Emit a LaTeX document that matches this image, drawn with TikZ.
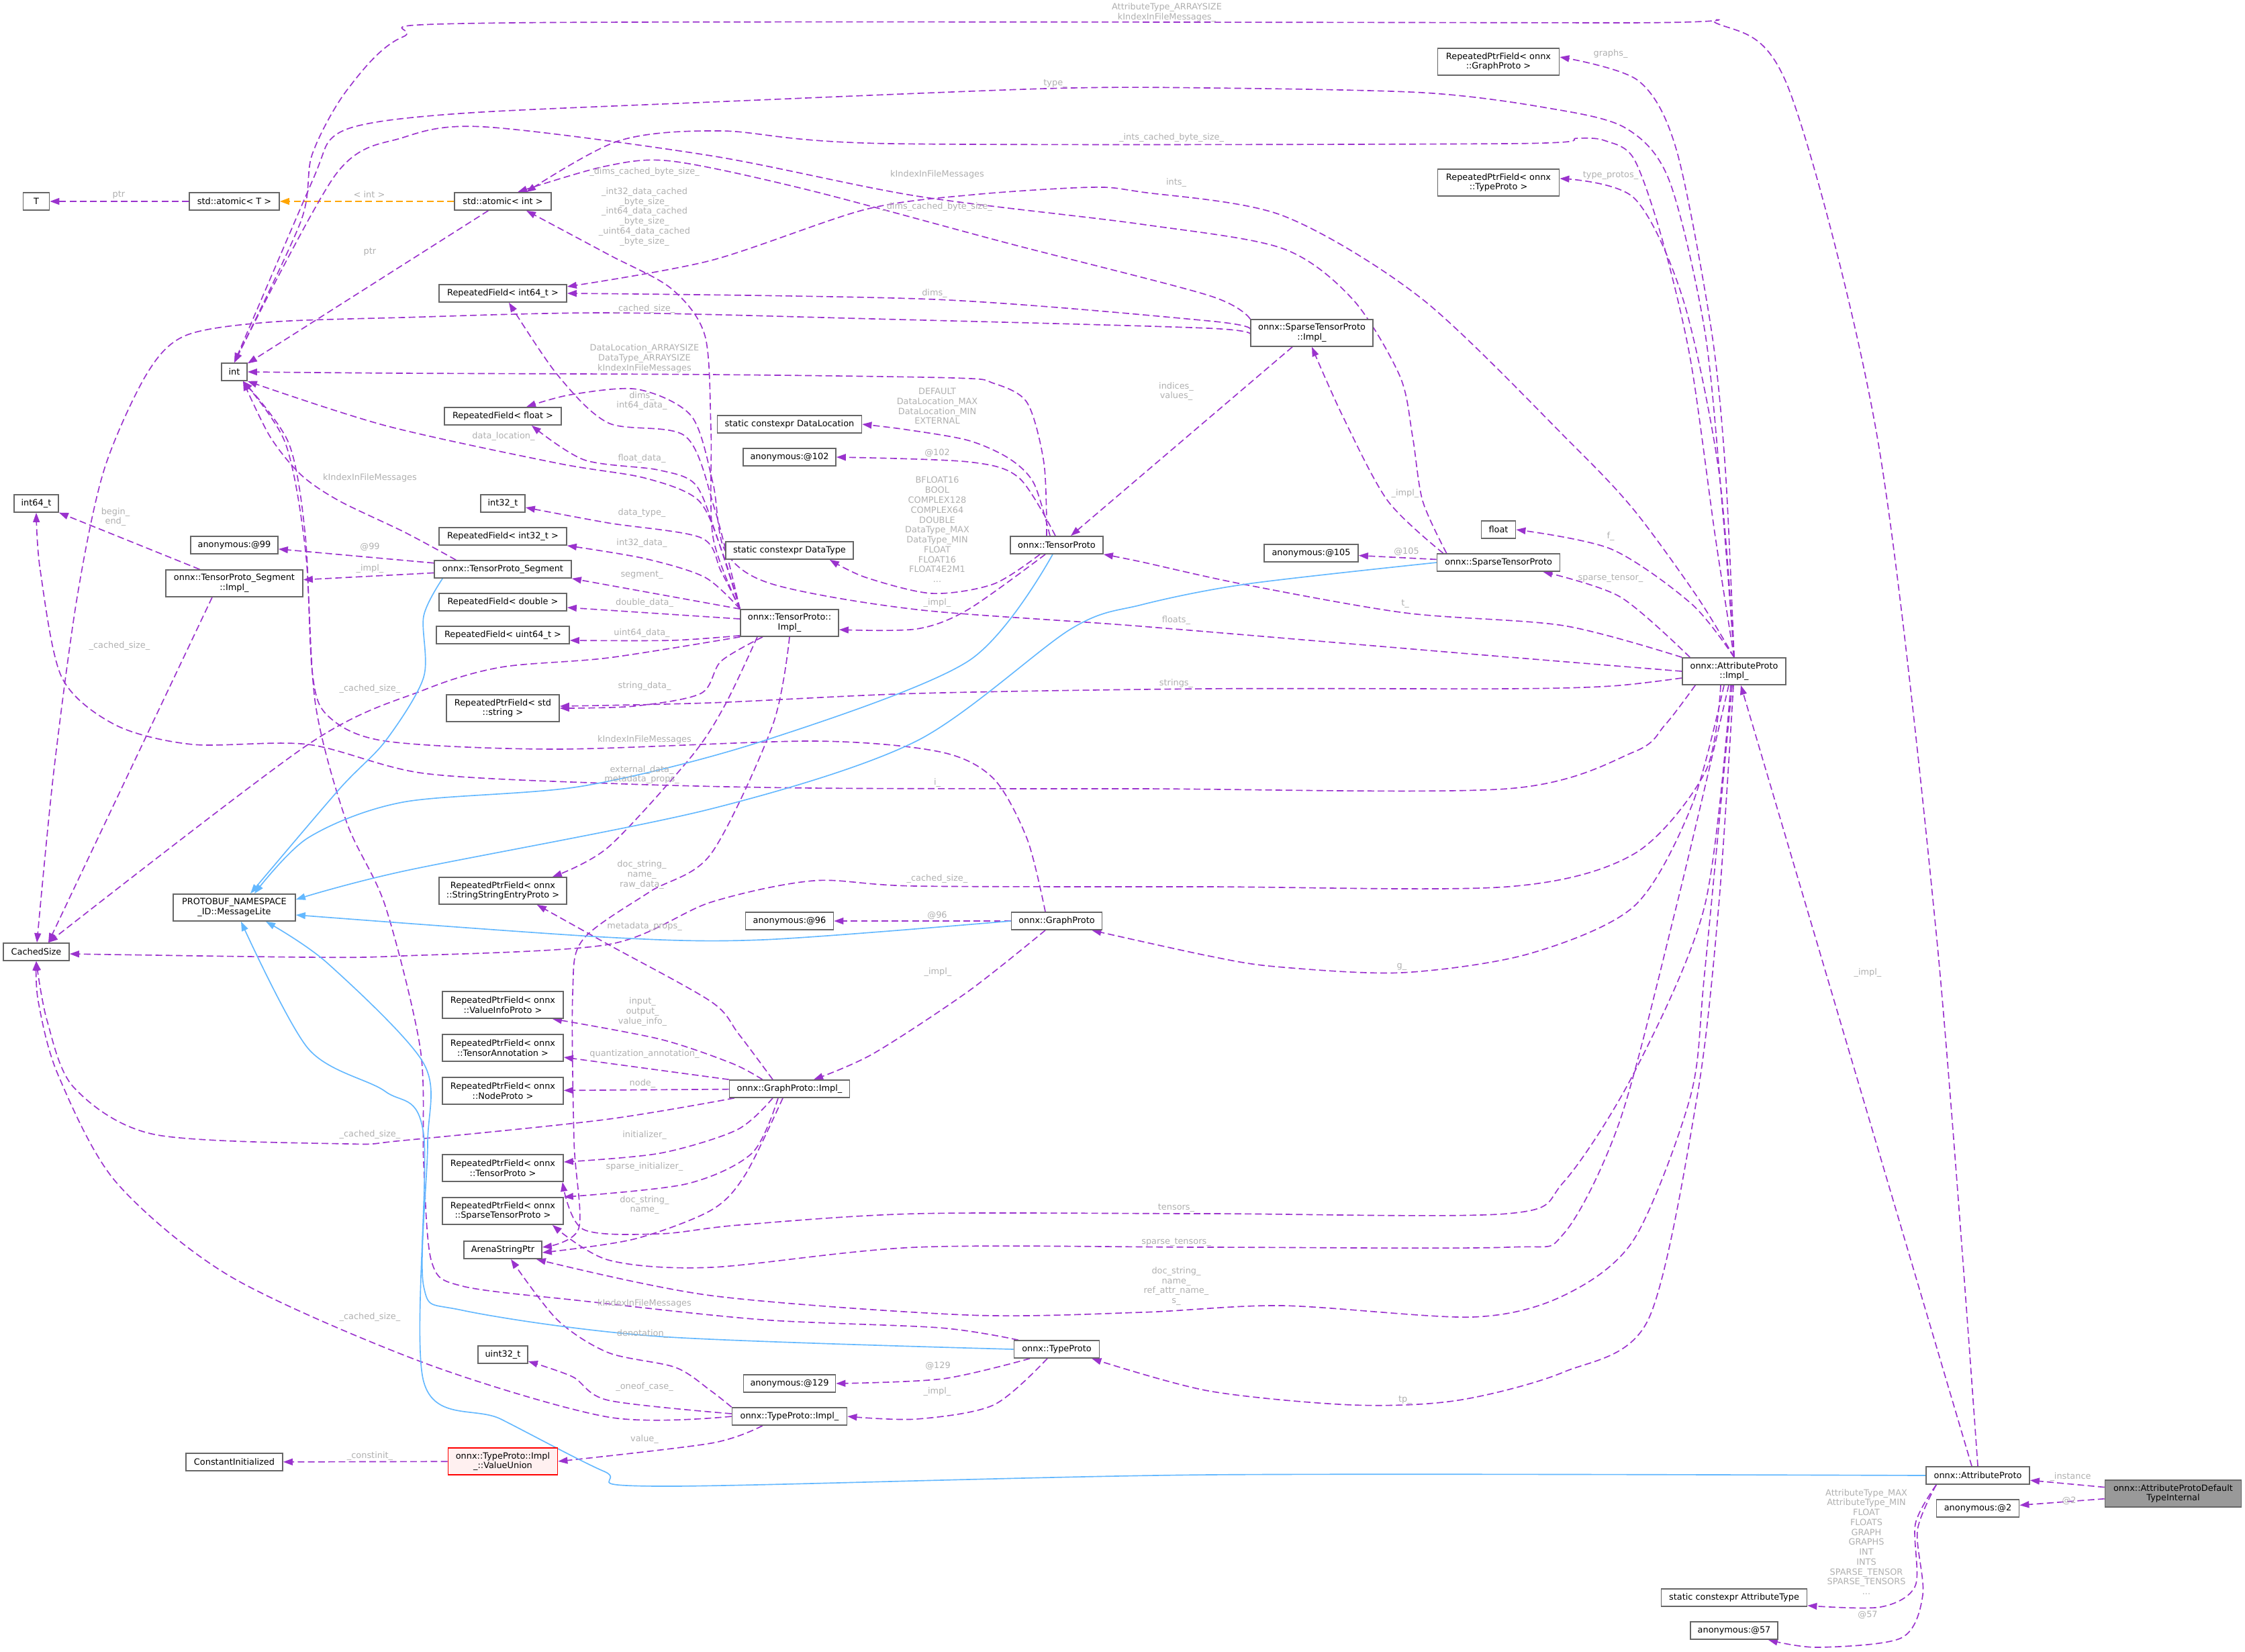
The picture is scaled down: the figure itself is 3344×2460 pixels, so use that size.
\documentclass[tikz,border=0pt]{standalone}
\usepackage{fontspec}
\setmainfont{DejaVu Sans}
\usetikzlibrary{arrows.meta,calc,backgrounds}
\definecolor{Frame}{HTML}{666666}
\definecolor{Rel}{HTML}{9A32CD}
\definecolor{Base}{HTML}{63B8FF}
\definecolor{Tmpl}{HTML}{FFA500}
\definecolor{Lbl}{HTML}{B0B0B0}
\definecolor{Root}{HTML}{999999}
\definecolor{Warn}{HTML}{FF0000}
\definecolor{WarnFill}{HTML}{FFF0F0}

\begin{document}
\begin{tikzpicture}[x=0.03cm,y=-0.03cm,font=\fontsize{11}{12.6}\selectfont,
 cls/.style={draw=Frame,line width=1.4pt,fill=white,inner xsep=3pt,inner ysep=0pt,minimum height=0.78cm,align=center},
 two/.style={cls,minimum height=1.2cm},
 wd/.style={minimum width=#1*0.03cm},
 rel/.style={draw=Rel,line width=1.4pt,dash pattern=on 8.5pt off 4.5pt,-{Triangle[length=12pt,width=8.5pt]}},
 isa/.style={draw=Base,line width=1.4pt,-{Triangle[length=12pt,width=8.5pt]}},
 tmpl/.style={draw=Tmpl,line width=1.4pt,dash pattern=on 8.5pt off 4.5pt,-{Triangle[length=12pt,width=8.5pt]}},
 lbl/.style={text=Lbl,align=center,inner sep=0pt}]
 \useasboundingbox (0,0) rectangle (3344,2460);

 \node[cls,wd=39] (T) at (54,300) {T};
 \node[cls,wd=134] (atomT) at (349,300) {std::atomic< T >};
 \node[cls,wd=144] (atomInt) at (749,300) {std::atomic< int >};
 \node[cls,wd=38] (intN) at (349,554) {int};
 \node[cls,wd=190] (rfInt64) at (749,437) {RepeatedField< int64\_t >};
 \node[cls,wd=174] (rfFloat) at (749,620) {RepeatedField< float >};
 \node[cls,wd=66] (int64t) at (54,750) {int64\_t};
 \node[cls,wd=130] (anon99) at (349,812) {anonymous:@99};
 \node[two,wd=204] (segImpl) at (349,869) {onnx::TensorProto\_Segment\\::Impl\_};
 \node[cls,wd=66] (int32t) at (749,750) {int32\_t};
 \node[cls,wd=190] (rfInt32) at (749,799) {RepeatedField< int32\_t >};
 \node[cls,wd=204] (seg) at (749,848) {onnx::TensorProto\_Segment};
 \node[cls,wd=190] (rfDouble) at (749,897) {RepeatedField< double >};
 \node[cls,wd=198] (rfUint64) at (749,946) {RepeatedField< uint64\_t >};
 \node[two,wd=168] (rpfString) at (749,1055) {RepeatedPtrField< std\\::string >};
 \node[two,wd=182] (msgLite) at (349,1352) {PROTOBUF\_NAMESPACE\\\_ID::MessageLite};
 \node[two,wd=190] (rpfSSE) at (749,1327) {RepeatedPtrField< onnx\\::StringStringEntryProto >};
 \node[cls,wd=98] (cached) at (54,1418) {CachedSize};
 \node[two,wd=180] (rpfVI) at (749,1497) {RepeatedPtrField< onnx\\::ValueInfoProto >};
 \node[two,wd=180] (rpfTA) at (749,1561) {RepeatedPtrField< onnx\\::TensorAnnotation >};
 \node[two,wd=180] (rpfNode) at (749,1625) {RepeatedPtrField< onnx\\::NodeProto >};
 \node[two,wd=180] (rpfTensor) at (749,1740) {RepeatedPtrField< onnx\\::TensorProto >};
 \node[two,wd=180] (rpfSparse) at (749,1804) {RepeatedPtrField< onnx\\::SparseTensorProto >};
 \node[cls,wd=116] (arena) at (749,1862) {ArenaStringPtr};
 \node[cls,wd=74] (uint32) at (749,2018) {uint32\_t};
 \node[cls,wd=144] (constInit) at (349,2178) {ConstantInitialized};
 \node[two,wd=163,draw=Warn,fill=WarnFill] (valueUnion) at (749,2177) {onnx::TypeProto::Impl\\\_::ValueUnion};
 \node[cls,wd=215] (dataLoc) at (1176,632) {static constexpr DataLocation};
 \node[cls,wd=138] (anon102) at (1176,681) {anonymous:@102};
 \node[cls,wd=190] (dataType) at (1176,820) {static constexpr DataType};
 \node[two,wd=146] (tpImpl) at (1176,928) {onnx::TensorProto::\\Impl\_};
 \node[cls,wd=138] (tp) at (1574,812) {onnx::TensorProto};
 \node[cls,wd=131] (anon96) at (1176,1372) {anonymous:@96};
 \node[cls,wd=135] (gp) at (1574,1372) {onnx::GraphProto};
 \node[cls,wd=179] (gpImpl) at (1176,1622) {onnx::GraphProto::Impl\_};
 \node[cls,wd=127] (typeProto) at (1574,2010) {onnx::TypeProto};
 \node[cls,wd=137] (anon129) at (1176,2061) {anonymous:@129};
 \node[cls,wd=171] (typeImpl) at (1176,2110) {onnx::TypeProto::Impl\_};
 \node[two,wd=181] (rpfGraph) at (2232,92) {RepeatedPtrField< onnx\\::GraphProto >};
 \node[two,wd=181] (rpfType) at (2232,272) {RepeatedPtrField< onnx\\::TypeProto >};
 \node[two,wd=182] (stpImpl) at (1954,496) {onnx::SparseTensorProto\\::Impl\_};
 \node[cls,wd=51] (floatN) at (2232,789) {float};
 \node[cls,wd=140] (anon105) at (1953,824) {anonymous:@105};
 \node[cls,wd=183] (stp) at (2232,838) {onnx::SparseTensorProto};
 \node[two,wd=154] (apImpl) at (2583,1000) {onnx::AttributeProto\\::Impl\_};
 \node[cls,wd=154] (ap) at (2946,2198) {onnx::AttributeProto};
 \node[cls,wd=123] (anon2) at (2946,2247) {anonymous:@2};
 \node[two,wd=203,fill=Root] (apDefault) at (3237,2225) {onnx::AttributeProtoDefault\\TypeInternal};
 \node[cls,wd=217] (attrType) at (2583,2380) {static constexpr AttributeType};
 \node[cls,wd=130] (anon57) at (2583,2429) {anonymous:@57};

 \begin{scope}[on background layer]
 \fill[white] (0,0) rectangle (3344,2460);
 \draw[rel] (atomT) -- (T);
 \draw[tmpl] (atomInt) -- (atomT);
 \draw[rel] (atomInt) -- (intN);
 \draw[rel] plot[smooth] coordinates {(ap.north) (2885,1400) (2796,650) (2665,134) (2560,36) (2400,34) (760,34) (600,55) (517,134) (465,230) (448,330) (intN.north)};
 \draw[rel] plot[smooth] coordinates {(apImpl.north) (2565,750) (2539,491) (2486,268) (2420,190) (2300,160) (2119,138) (1800,131) (1557,132) (1059,152) (717,167) (560,182) (495,205) (465,270) (intN.north)};
 \draw[rel] plot[smooth] coordinates {($(stp.north west)+(15,0)$) (2119,746) (2104,650) (2085,560) (2015,446) (1910,370) (1700,334) (1365,292) (1059,232) (722,189) (600,205) (500,260) (intN.north)};
 \draw[rel] plot[smooth] coordinates {($(tp.north)+(-15,0)$) (1555,690) (1530,600) (1480,571) (1420,563) (1059,558) (600,556) (intN.east)};
 \draw[rel] plot[smooth] coordinates {(tpImpl.north west) (1075,820) (1040,745) (960,712) (830,690) (574,634) (intN.south east)};
 \draw[rel] plot[smooth] coordinates {(tpImpl.north west) (1068,800) (1036,722) (980,700) (870,685) ($(rfFloat.south east)+(-45,0)$)};
 \draw[rel] plot[smooth] coordinates {(tpImpl.north west) (1065,760) (1021,650) (906,630) (830,558) ($(rfInt64.south)+(9,0)$)};
 \draw[rel] plot[smooth] coordinates {(tpImpl.north west) (1062,800) (1059,640) (1050,500) (1000,430) (906,379) ($(atomInt.south)+(35,0)$)};
 \draw[rel] plot[smooth] coordinates {(tpImpl.north west) (1074,851) (1044,801) (906,779) ($(int32t.east)+(0,6)$)};
 \draw[rel] plot[smooth] coordinates {(tpImpl.north west) (1050,860) (960,832) (rfInt32.south east)};
 \draw[rel] (tpImpl.north west) -- (seg.south east);
 \draw[rel] ($(tpImpl.west)+(0,-6)$) -- ($(rfDouble.east)+(0,8)$);
 \draw[rel] plot[smooth] coordinates {($(tpImpl.south west)+(0,-2)$) (1000,954) ($(rfUint64.east)+(0,8)$)};
 \draw[rel] plot[smooth] coordinates {($(tpImpl.south)+(-40,0)$) (1074,985) (1044,1033) (944,1052) (rpfString.east)};
 \draw[rel] plot[smooth] coordinates {(tpImpl.south west) (906,980) (746,994) (631,1028) (459,1109) ($(cached.north)+(18,0)$)};
 \draw[rel] plot[smooth] coordinates {($(tpImpl.south)+(-48,0)$) (1080,1050) (1029,1128) (906,1262) ($(rpfSSE.north east)+(-22,0)$)};
 \draw[rel] plot[smooth] coordinates {(tpImpl.south) (1151,1080) (1059,1272) (967,1329) (868,1400) (853,1480) (855,1700) (862,1830) ($(arena.east)+(0,-4)$)};
 \draw[rel] plot[smooth] coordinates {($(gpImpl.north west)+(50,0)$) (1090,1584) (983,1548) ($(rpfVI.south east)+(-17,0)$)};
 \draw[rel] (gpImpl.north west) -- ($(rpfTA.east)+(0,14)$);
 \draw[rel] (gpImpl) -- (rpfNode);
 \draw[rel] plot[smooth] coordinates {($(gpImpl.south west)+(8,0)$) (900,1668) (600,1699) (517,1704) (230,1690) (110,1620) (70,1520) (cached.south)};
 \draw[rel] plot[smooth] coordinates {($(gpImpl.south)+(-25,0)$) (1098,1683) (983,1718) ($(rpfTensor.east)+(0,-9)$)};
 \draw[rel] plot[smooth] coordinates {($(gpImpl.south)+(-17,0)$) (1120,1718) (1021,1764) (rpfSparse.north east)};
 \draw[rel] plot[smooth] coordinates {($(gpImpl.south)+(-10,0)$) (1110,1750) (1059,1803) (944,1846) ($(arena.east)+(0,4)$)};
 \draw[rel] plot[smooth] coordinates {($(gpImpl.north)+(-25,0)$) (1100,1540) (1059,1492) (906,1407) ($(rpfSSE.south east)+(-45,0)$)};
 \draw[rel] (gp) -- (anon96);
 \draw[rel] plot[smooth] coordinates {($(gp.south)+(-17,0)$) (1442,1477) (1300,1570) ($(gpImpl.north)+(36,0)$)};
 \draw[rel] plot[smooth] coordinates {($(gp.north)+(-17,0)$) (1530,1250) (1480,1160) (1400,1120) (1212,1104) (830,1116) (574,1104) (488,1066) (465,1000) (455,800) (430,660) ($(intN.south)+(13,0)$)};
 \draw[rel] plot[smooth] coordinates {($(typeProto.south)+(-40,0)$) (1404,2054) (anon129.east)};
 \draw[rel] plot[smooth] coordinates {($(typeProto.south)+(-14,0)$) (1480,2093) (1365,2114) (typeImpl.east)};
 \draw[rel] plot[smooth] coordinates {($(typeProto.north west)+(7,0)$) (1400,1978) (1136,1966) (868,1938) (689,1916) (643,1880) (631,1732) (626,1562) (574,1350) (516,1224) (470,1050) (455,820) (425,660) ($(intN.south)+(13,0)$)};
 \draw[rel] plot[smooth] coordinates {(typeImpl.north west) (1059,2072) (1006,2037) (906,2015) (830,1966) ($(arena.south)+(12,0)$)};
 \draw[rel] plot[smooth] coordinates {($(typeImpl.west)+(0,-4)$) (906,2086) (853,2051) ($(uint32.east)+(0,10)$)};
 \draw[rel] plot[smooth] coordinates {(typeImpl.west) (906,2111) (631,2030) (344,1902) (172,1760) (86,1600) (57,1492) (cached.south)};
 \draw[rel] plot[smooth] coordinates {($(typeImpl.south west)+(46,0)$) (1059,2150) (valueUnion.east)};
 \draw[rel] (valueUnion) -- (constInit);
 \draw[rel] (seg) -- (anon99);
 \draw[rel] (seg) -- (segImpl);
 \draw[rel] plot[smooth] coordinates {($(seg.north west)+(33,0)$) (603,793) (505,746) (448,707) (402,650) ($(intN.south)+(13,0)$)};
 \draw[rel] (segImpl) -- (int64t);
 \draw[rel] ($(segImpl.south)+(-33,0)$) -- ($(cached.north)+(18,0)$);
 \draw[rel] plot[smooth] coordinates {(stpImpl.north west) (1800,440) (1500,362) (1200,282) (1000,240) (900,248) ($(atomInt.north)+(22,0)$)};
 \draw[rel] plot[smooth] coordinates {($(stpImpl.west)+(0,-6)$) (1800,478) (1392,446) (rfInt64.east)};
 \draw[rel] plot[smooth] coordinates {($(stpImpl.west)+(0,4)$) (1800,489) (1300,475) (906,466) (600,473) (400,480) (276,500) (218,558) (155,700) (115,889) (80,1150) ($(cached.north)+(1,0)$)};
 \draw[rel] ($(stpImpl.south)+(-29,0)$) -- ($(tp.north)+(21,0)$);
 \draw[rel] (stp) -- (anon105);
 \draw[rel] plot[smooth] coordinates {($(stp.north west)+(10,0)$) (2067,746) (2000,620) (stpImpl.south)};
 \draw[rel] plot[smooth] coordinates {($(tp.north)+(-10,0)$) (1540,720) (1503,683) (1442,656) (1350,640) (dataLoc.east)};
 \draw[rel] plot[smooth] coordinates {($(tp.north)+(-2,0)$) (1518,712) (1442,688) (anon102.east)};
 \draw[rel] plot[smooth] coordinates {($(tp.south)+(-25,0)$) (1480,870) (1388,884) (1289,860) ($(dataType.south east)+(-36,0)$)};
 \draw[rel] plot[smooth] coordinates {($(tp.south)+(-17,0)$) (1442,908) (1365,937) ($(tpImpl.east)+(0,10)$)};
 \draw[rel] plot[smooth] coordinates {(apImpl.north) (2570,700) (2549,491) (2497,223) (2440,120) ($(rpfGraph.east)+(0,-7)$)};
 \draw[rel] plot[smooth] coordinates {(apImpl.north) (2560,700) (2507,446) (2434,295) ($(rpfType.east)+(0,-6)$)};
 \draw[rel] plot[smooth] coordinates {(apImpl.north) (2520,900) (2400,818) (floatN.east)};
 \draw[rel] plot[smooth] coordinates {($(apImpl.north west)+(12,0)$) (2413,889) ($(stp.south east)+(-26,0)$)};
 \draw[rel] plot[smooth] coordinates {(apImpl.north west) (2329,932) (2093,913) (1850,870) (1700,837) (tp.south east)};
 \draw[rel] plot[smooth] coordinates {(apImpl.west) (2200,975) (1700,933) (1365,908) (1150,870) (1080,820) (1062,720) (1030,620) (950,580) (850,588) ($(rfFloat.north)+(35,0)$)};
 \draw[rel] plot[smooth] coordinates {($(apImpl.west)+(0,10)$) (2400,1022) (2245,1026) (1800,1026) (1365,1033) (1059,1047) ($(rpfString.east)+(0,-3)$)};
 \draw[rel] plot[smooth] coordinates {(apImpl.north) (2528,889) (2434,760) (2340,660) (2119,446) (1910,321) (1700,286) (1625,279) (1450,290) (1289,312) (1059,388) ($(rfInt64.east)+(0,-10)$)};
 \draw[rel] plot[smooth] coordinates {(apImpl.north) (2555,800) (2518,536) (2476,357) (2434,237) (2392,210) (2350,206) (2245,214) (1327,214) (1074,195) (921,210) ($(atomInt.north)+(35,0)$)};
 \draw[rel] plot[smooth] coordinates {($(apImpl.south west)+(20,0)$) (2480,1080) (2434,1120) (2245,1175) (1700,1175) (1212,1174) (906,1167) (631,1152) (459,1109) (287,1109) (172,1080) (92,1009) (60,850) (int64t.south)};
 \draw[rel] plot[smooth] coordinates {($(apImpl.south)+(-20,0)$) (2540,1150) (2434,1272) (2245,1321) (1800,1321) (1365,1320) (1212,1312) (1059,1344) (906,1407) (600,1424) (459,1426) ($(cached.east)+(0,3)$)};
 \draw[rel] plot[smooth] coordinates {($(apImpl.south)+(-15,0)$) (2520,1200) (2434,1350) (2277,1421) (2088,1449) (1900,1440) (1800,1424) ($(gp.south east)+(-16,0)$)};
 \draw[rel] plot[smooth] coordinates {($(apImpl.south)+(-5,0)$) (2539,1350) (2434,1598) (2329,1761) (2245,1808) (1800,1808) (1365,1808) (1100,1825) (983,1838) (868,1831) ($(rpfTensor.south east)+(-2,0)$)};
 \draw[rel] plot[smooth] coordinates {($(apImpl.south)+(-8,0)$) (2497,1350) (2413,1669) (2329,1838) (2245,1858) (1800,1858) (1365,1858) (1059,1888) (906,1877) ($(rpfSparse.south east)+(-17,0)$)};
 \draw[rel] plot[smooth] coordinates {($(apImpl.south)+(-3,0)$) (2539,1450) (2518,1633) (2434,1846) (2329,1930) (2193,1962) (1910,1945) (1700,1955) (1442,1959) (1059,1930) ($(arena.south east)+(-9,0)$)};
 \draw[rel] plot[smooth] coordinates {($(apImpl.south)+(-1,0)$) (2560,1350) (2528,1633) (2455,1966) (2329,2044) (2172,2086) (2015,2093) (1800,2072) ($(typeProto.south east)+(-12,0)$)};
 \draw[rel] ($(ap.north)+(-9,0)$) -- ($(apImpl.south)+(10,0)$);
 \draw[rel] plot[smooth] coordinates {($(ap.south west)+(16,0)$) (2853,2270) (2853,2362) (2801,2394) ($(attrType.south east)+(0,-2)$)};
 \draw[rel] plot[smooth] coordinates {($(ap.south west)+(16,0)$) (2856,2280) (2864,2376) (2832,2440) (2707,2454) ($(anon57.south east)+(-15,0)$)};
 \draw[rel] (apDefault) -- (ap);
 \draw[rel] (apDefault) -- (anon2);
 \draw[isa] plot[smooth] coordinates {($(seg.south west)+(13,0)$) (631,918) (631,1009) (574,1104) (505,1176) ($(msgLite.north)+(24,0)$)};
 \draw[isa] plot[smooth] coordinates {($(tp.south)+(-6,0)$) (1442,985) (1136,1104) (868,1171) (600,1195) (459,1248) ($(msgLite.north)+(30,0)$)};
 \draw[isa] plot[smooth] coordinates {(stp.west) (1857,870) (1700,901) (1595,937) (1365,1104) (1059,1205) (600,1298) ($(msgLite.east)+(0,-12)$)};
 \draw[isa] plot[smooth] coordinates {(gp.west) (1136,1400) (900,1396) ($(msgLite.east)+(0,11)$)};
 \draw[isa] plot[smooth] coordinates {(typeProto.west) (983,1991) (689,1952) (631,1916) (637,1704) (631,1584) (488,1435) ($(msgLite.south)+(47,0)$)};
 \draw[isa] plot[smooth] coordinates {(ap.west) (1800,2197) (983,2214) (900,2192) (746,2114) (631,2058) (631,1690) (574,1626) (459,1562) ($(msgLite.south)+(10,0)$)};
 \end{scope}

 \node[lbl] (lPtrT) at (177,290) {ptr};
 \node[lbl] (lInt) at (550,290) {< int >};
 \node[lbl] (lPtrInt) at (551,375) {ptr};
 \node[lbl] (lApInt) at (1738,19) {AttributeType\_ARRAYSIZE\\kIndexInFileMessages\_};
 \node[lbl] (lType) at (1572,124) {type\_};
 \node[lbl] (lIntsCached) at (1745,205) {\_ints\_cached\_byte\_size\_};
 \node[lbl] (lTpAtom) at (960,308) {\_dims\_cached\_byte\_size\_\\[12.6pt]\_int32\_data\_cached\\\_byte\_size\_\\\_int64\_data\_cached\\\_byte\_size\_\\\_uint64\_data\_cached\\\_byte\_size\_};
 \node[lbl] (lStpAtom) at (1396,308) {\_dims\_cached\_byte\_size\_};
 \node[lbl] (lInts) at (1752,272) {ints\_};
 \node[lbl] (lStpInt) at (1396,260) {kIndexInFileMessages};
 \node[lbl] (lDims) at (1392,437) {dims\_};
 \node[lbl] (lStpCached) at (960,460) {\_cached\_size\_};
 \node[lbl] (lTpInt) at (960,534) {DataLocation\_ARRAYSIZE\\DataType\_ARRAYSIZE\\kIndexInFileMessages};
 \node[lbl] (lDimsInt64) at (956,597) {dims\_\\int64\_data\_};
 \node[lbl] (lDataLoc) at (750,650) {data\_location\_};
 \node[lbl] (lFloatData) at (956,683) {float\_data\_};
 \node[lbl] (lDataLocEnum) at (1396,605) {DEFAULT\\DataLocation\_MAX\\DataLocation\_MIN\\EXTERNAL};
 \node[lbl] (l102) at (1396,675) {@102};
 \node[lbl] (lSegInt) at (551,712) {kIndexInFileMessages};
 \node[lbl] (lBegin) at (172,770) {begin\_\\end\_};
 \node[lbl] (lDataType) at (956,764) {data\_type\_};
 \node[lbl] (lDataTypeEnum) at (1396,789) {BFLOAT16\\BOOL\\COMPLEX128\\COMPLEX64\\DOUBLE\\DataType\_MAX\\DataType\_MIN\\FLOAT\\FLOAT16\\FLOAT4E2M1\\...};
 \node[lbl] (lInt32) at (956,809) {int32\_data\_};
 \node[lbl] (l99) at (551,815) {@99};
 \node[lbl] (lSegImpl) at (551,847) {\_impl\_};
 \node[lbl] (lSegment) at (956,856) {segment\_};
 \node[lbl] (lDouble) at (960,898) {double\_data\_};
 \node[lbl] (lTpImpl) at (1396,898) {\_impl\_};
 \node[lbl] (lT) at (2093,899) {t\_};
 \node[lbl] (lFloats) at (1752,924) {floats\_};
 \node[lbl] (lUint64) at (956,943) {uint64\_data\_};
 \node[lbl] (lSegCached) at (178,962) {\_cached\_size\_};
 \node[lbl] (lStrings) at (1752,1018) {strings\_};
 \node[lbl] (lStringData) at (960,1022) {string\_data\_};
 \node[lbl] (lTpCached) at (551,1026) {\_cached\_size\_};
 \node[lbl] (lGpInt) at (960,1102) {kIndexInFileMessages};
 \node[lbl] (lExternal) at (956,1154) {external\_data\_\\metadata\_props\_};
 \node[lbl] (lI) at (1396,1166) {i\_};
 \node[lbl] (lDocRaw) at (956,1303) {doc\_string\_\\name\_\\raw\_data\_};
 \node[lbl] (lApCached) at (1396,1309) {\_cached\_size\_};
 \node[lbl] (l96) at (1396,1364) {@96};
 \node[lbl] (lMeta) at (960,1380) {metadata\_props\_};
 \node[lbl] (lGpImpl) at (1397,1448) {\_impl\_};
 \node[lbl] (lG) at (2088,1440) {g\_};
 \node[lbl] (lApImpl) at (2782,1449) {\_impl\_};
 \node[lbl] (lInput) at (957,1507) {input\_\\output\_\\value\_info\_};
 \node[lbl] (lQuant) at (960,1570) {quantization\_annotation\_};
 \node[lbl] (lNode) at (957,1614) {node\_};
 \node[lbl] (lGpCached) at (551,1690) {\_cached\_size\_};
 \node[lbl] (lInit) at (960,1691) {initializer\_};
 \node[lbl] (lSparseInit) at (960,1738) {sparse\_initializer\_};
 \node[lbl] (lGpDoc) at (960,1795) {doc\_string\_\\name\_};
 \node[lbl] (lTensors) at (1752,1799) {tensors\_};
 \node[lbl] (lSparseTensors) at (1752,1850) {sparse\_tensors\_};
 \node[lbl] (lApDoc) at (1752,1916) {doc\_string\_\\name\_\\ref\_attr\_name\_\\s\_};
 \node[lbl] (lTypeInt) at (960,1942) {kIndexInFileMessages};
 \node[lbl] (lTypeCached) at (551,1962) {\_cached\_size\_};
 \node[lbl] (lDenot) at (957,1987) {denotation\_};
 \node[lbl] (l129) at (1397,2035) {@129};
 \node[lbl] (lOneof) at (960,2066) {\_oneof\_case\_};
 \node[lbl] (lTypeImpl) at (1396,2073) {\_impl\_};
 \node[lbl] (lTp) at (2093,2085) {tp\_};
 \node[lbl] (lValue) at (960,2144) {value\_};
 \node[lbl] (lConstinit) at (551,2169) {\_constinit\_};
 \node[lbl] (lInstance) at (3084,2200) {\_instance};
 \node[lbl] (l2) at (3082,2236) {@2};
 \node[lbl] (lAttrEnum) at (2780,2297) {AttributeType\_MAX\\AttributeType\_MIN\\FLOAT\\FLOATS\\GRAPH\\GRAPHS\\INT\\INTS\\SPARSE\_TENSOR\\SPARSE\_TENSORS\\...};
 \node[lbl] (l57) at (2782,2406) {@57};
 \node[lbl] (lStpImpl) at (2093,735) {\_impl\_};
 \node[lbl] (lIndices) at (1752,583) {indices\_\\values\_};
 \node[lbl] (l105) at (2095,822) {@105};
 \node[lbl] (lF) at (2399,799) {f\_};
 \node[lbl] (lSparseTensor) at (2399,861) {sparse\_tensor\_};
 \node[lbl] (lGraphs) at (2399,80) {graphs\_};
 \node[lbl] (lTypeProtos) at (2399,261) {type\_protos\_};
\end{tikzpicture}
\end{document}
